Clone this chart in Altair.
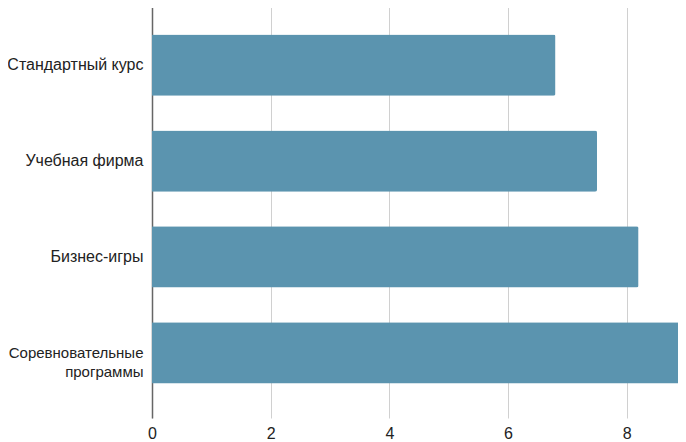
import altair as alt
import pandas as pd

categories = ["Стандартный курс", "Учебная фирма", "Бизнес-игры", "Соревновательные\nпрограммы"]
values = [6.8, 7.5, 8.2, 9.0]
x_ticks = [0, 2, 4, 6, 8]

df = pd.DataFrame({"category": categories, "value": values})

chart = alt.Chart(df).mark_bar(color="#5b94af", cornerRadiusTopRight=2, cornerRadiusBottomRight=2).encode(
    x=alt.X("value:Q",
            scale=alt.Scale(domain=[0, 9], nice=False, zero=True),
            axis=alt.Axis(title=None, values=x_ticks, grid=True, gridColor="#d0d0d0",
                          domain=False, ticks=False, labelFontSize=16, labelColor="#222222",
                          labelFont="Liberation Sans", labelPadding=7, labelFlush=False)),
    y=alt.Y("category:N", sort=categories,
            scale=alt.Scale(paddingInner=0.36, paddingOuter=0.36),
            axis=alt.Axis(title=None, domain=True, domainColor="#666666", domainWidth=1.5,
                          ticks=False,
                          labelFontSize={"condition": {"test": "indexof(datum.value, 'Соревновательные') >= 0", "value": 15}, "value": 16},
                          labelColor="#222222",
                          labelFont="Liberation Sans", labelPadding=9, labelLimit=300,
                          labelExpr="split(datum.label, '\\n')", labelLineHeight=19)),
).properties(
    width=534, height=418,
    autosize=alt.AutoSizeParams(type="none"),
    padding={"left": 144, "top": -8, "right": -8, "bottom": 24},
).configure_view(stroke=None)

chart.save("out.html", embed_options={"renderer": "svg", "actions": False})
